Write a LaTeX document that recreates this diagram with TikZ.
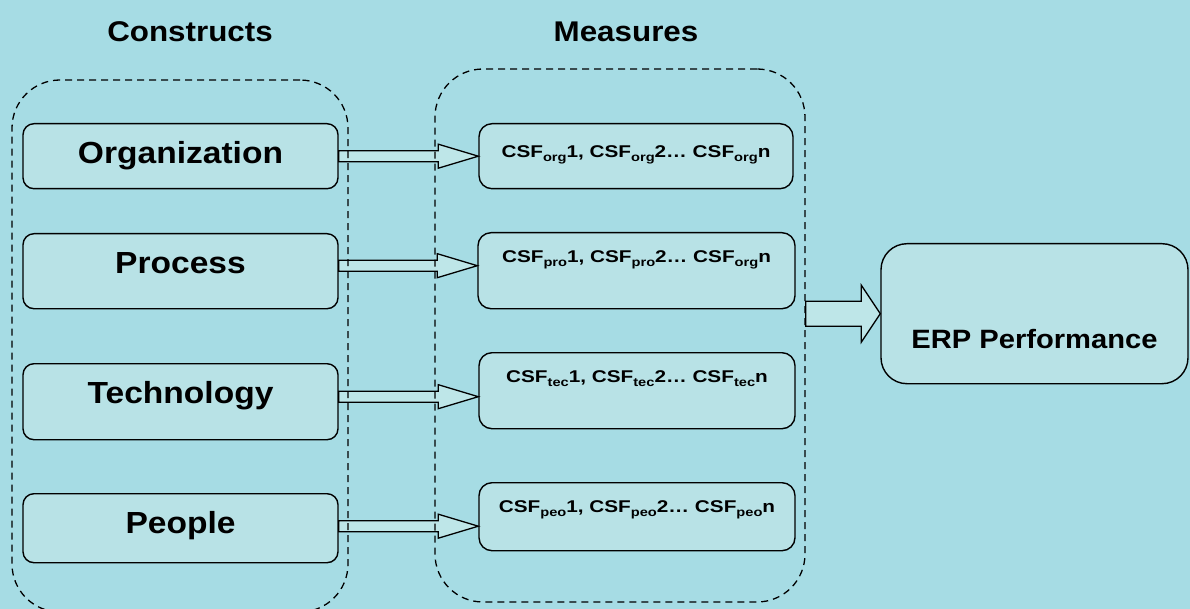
\documentclass[tikz,border=0pt]{standalone}
\usepackage{fontspec}
\setmainfont{Liberation Sans}[FakeStretch=1.1]
\newfontfamily\csffont{Liberation Sans}[FakeStretch=1.22]
\usetikzlibrary{calc}

\definecolor{bgwater}{RGB}{166,220,228}
\definecolor{boxfill}{RGB}{184,226,230}
\definecolor{arrowfill}{RGB}{190,230,232}

% subscript index of a CSF label
\newcommand\csfsub[1]{\raisebox{-0.2em}{\fontsize{12}{12}\selectfont #1}}
\newcommand\csfrow[2]{{\csffont\bfseries\fontsize{17}{20}\selectfont
  CSF\csfsub{#1}1, CSF\csfsub{#1}2\ldots\ CSF\csfsub{#2}n}}

\tikzset{
  construct/.style={draw, line width=1.4pt, fill=boxfill, rounded corners=11pt,
    minimum width=315pt, inner ysep=0pt, anchor=north, align=center,
    font=\bfseries\fontsize{30.5}{36}\selectfont},
  measure/.style={draw, line width=1.4pt, fill=boxfill, rounded corners=13pt,
    minimum width=316pt, inner ysep=0pt, anchor=north, align=center},
  result/.style={draw, line width=1.4pt, fill=boxfill, rounded corners=26pt,
    minimum width=307pt, inner ysep=0pt, anchor=north, align=center,
    font=\bfseries\fontsize{26.5}{32}\selectfont},
  group/.style={draw, dash pattern=on 7pt off 5pt, line width=1.3pt,
    rounded corners=48pt, inner sep=0pt},
  heading/.style={anchor=base, font=\bfseries\fontsize{28.5}{34}\selectfont},
  hollow/.style={draw, line width=1.3pt, fill=arrowfill, line join=miter},
}

\begin{document}
\begin{tikzpicture}[x=1pt, y=-1pt]
  \useasboundingbox (0,0) rectangle (1190,609);
  \fill[bgwater] (0,0) rectangle (1190,609);

  % column headings
  \node[heading] (hcons) at (190,42) {Constructs};
  \node[heading] (hmeas) at (626,42) {Measures};

  % constructs
  \node[construct, text height=40pt, text depth=25pt] (org) at (180.5,123) {Organization};
  \node[construct, text height=40pt, text depth=35pt] (pro) at (180.5,233) {Process};
  \node[construct, text height=40pt, text depth=36pt] (tec) at (180.5,363) {Technology};
  \node[construct, text height=40pt, text depth=29pt] (peo) at (180.5,493) {People};

  % measures
  \node[measure, minimum width=314pt, text height=34pt, text depth=31pt] (morg) at (636,123) {\csfrow{org}{org}};
  \node[measure, minimum width=317pt, text height=30pt, text depth=46pt] (mpro) at (636.5,232) {\csfrow{pro}{org}};
  \node[measure, text height=30pt, text depth=46pt] (mtec) at (637,352) {\csfrow{tec}{tec}};
  \node[measure, text height=30pt, text depth=38pt] (mpeo) at (637,482) {\csfrow{peo}{peo}};

  % outcome
  \node[result, text height=105pt, text depth=35pt] (erp) at (1034.5,243) {ERP Performance};

  % hollow arrows from each construct to its measures
  \foreach \src/\dst/\dy in {org/morg/0pt, pro/mpro/5pt, tec/mtec/-6pt, peo/mpeo/-9.5pt}{
    \draw[hollow] let \p1=(\src.east), \p2=([yshift=\dy]\dst.west) in
      (\x1,\y2+5.5pt) -- (\x2-40pt,\y2+5.5pt) -- (\x2-40pt,\y2+12pt) -- (\x2,\y2)
      -- (\x2-40pt,\y2-12pt) -- (\x2-40pt,\y2-5.5pt) -- (\x1,\y2-5.5pt) -- cycle;
  }

  % dashed groups
  \node[group, minimum width=336pt, minimum height=532pt] (gcons) at (180,346) {};
  \node[group, minimum width=370pt, minimum height=533pt] (gmeas) at (620,335.5) {};

  % broad arrow from the measures to ERP performance
  \draw[hollow] let \p1=(gmeas.east), \p2=(erp.west) in
    (\x1,\y2+12.5pt) -- (\x2-19pt,\y2+12.5pt) -- (\x2-19pt,\y2+28.5pt) -- (\x2,\y2)
    -- (\x2-19pt,\y2-28.5pt) -- (\x2-19pt,\y2-12.5pt) -- (\x1,\y2-12.5pt) -- cycle;
\end{tikzpicture}
\end{document}
